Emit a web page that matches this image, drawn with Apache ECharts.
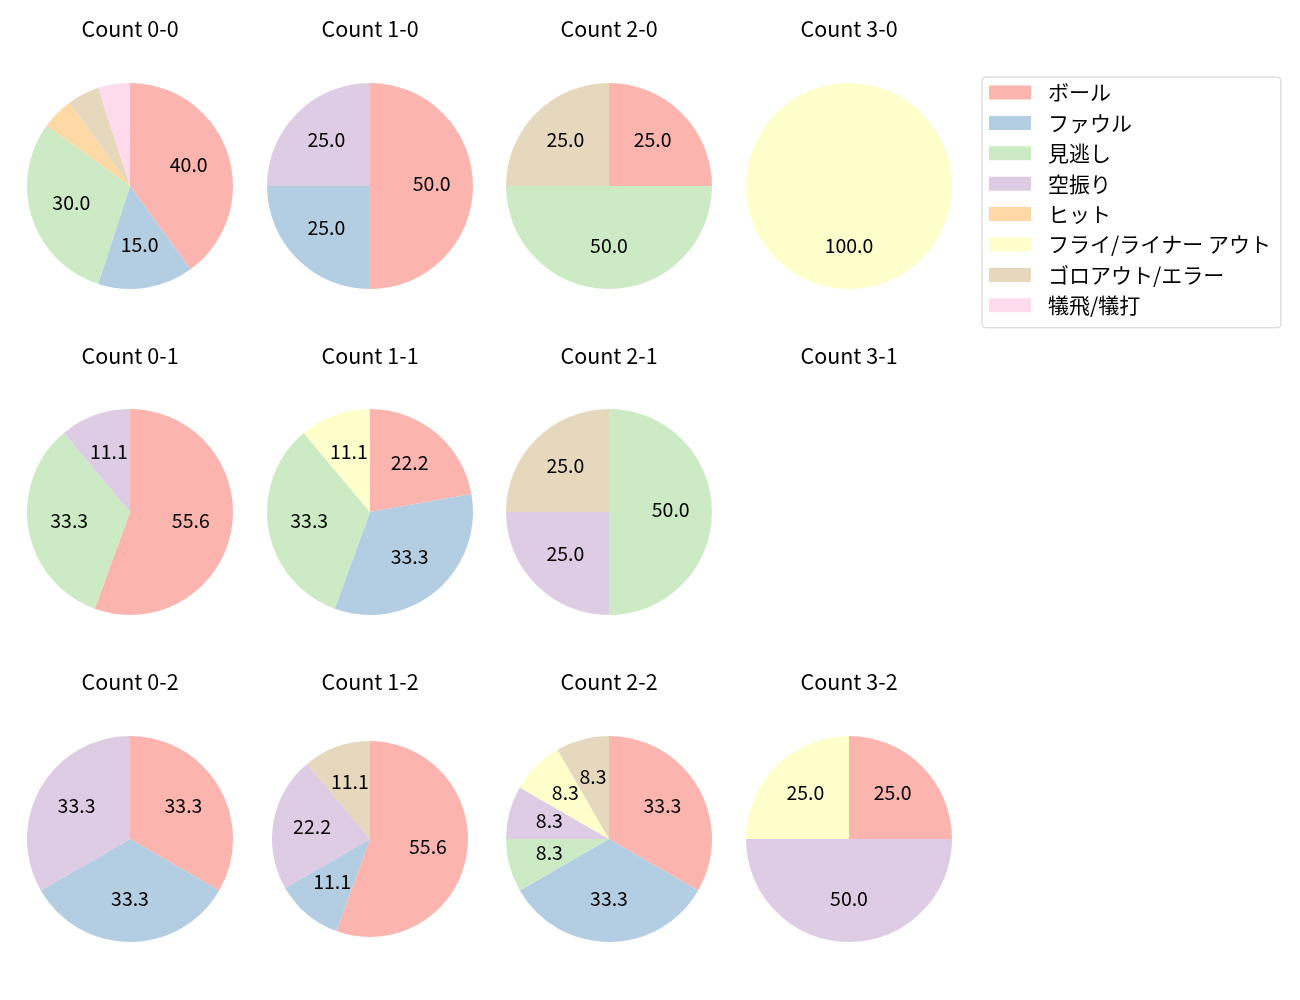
<!DOCTYPE html>
<html><head><meta charset="utf-8">
<script src="https://cdn.jsdelivr.net/npm/echarts@6/dist/echarts.min.js"></script>
<style>html,body{margin:0;padding:0;background:#fff}#c{width:1300px;height:1000px}</style>
</head><body><div id="c"></div>
<script>
const categories = ['ボール','ファウル','見逃し','空振り','ヒット','フライ/ライナー アウト','ゴロアウト/エラー','犠飛/犠打'];
const colors = ['#fbb4ae','#b3cde3','#ccebc5','#decbe4','#fed9a6','#ffffcc','#e5d8bd','#fddaec'];
const countLabels = ['0-0','1-0','2-0','3-0','0-1','1-1','2-1','3-1','0-2','1-2','2-2','3-2'];
const c00 = [8,3,6,0,1,0,1,1];
const c10 = [2,1,0,1,0,0,0,0];
const c20 = [1,0,2,0,0,0,1,0];
const c30 = [0,0,0,0,0,1,0,0];
const c01 = [5,0,3,1,0,0,0,0];
const c11 = [2,3,3,0,0,1,0,0];
const c21 = [0,0,2,1,0,0,1,0];
const c31 = [0,0,0,0,0,0,0,0];
const c02 = [1,1,0,1,0,0,0,0];
const c12 = [5,1,0,2,0,0,1,0];
const c22 = [4,4,1,1,0,1,1,0];
const c32 = [1,0,0,2,0,1,0,0];
const allCounts = [c00,c10,c20,c30,c01,c11,c21,c31,c02,c12,c22,c32];

const FONT = '"Noto Sans CJK JP", "Noto Sans", sans-serif';
const colX = [130,370,609,849];
const rowY = [186,512,839];
const titleY = [18,345,671];
const R = 103;

const series = [];
const titles = [];
allCounts.forEach((vals, i) => {
  const col = i % 4, row = Math.floor(i / 4);
  const cx = colX[col], cy = rowY[row];
  const r = (countLabels[i] === '1-2') ? 98 : R;
  titles.push({
    text: 'Count ' + countLabels[i], left: cx, top: titleY[row], textAlign: 'center', padding: 0,
    textStyle: {fontFamily: FONT, fontSize: 21.5, fontWeight: 'normal', color: '#000', lineHeight: 22}
  });
  const data = [];
  vals.forEach((v, k) => { if (v > 0) data.push({name: categories[k], value: v, itemStyle: {color: colors[k]}}); });
  if (!data.length) return;
  series.push({
    type: 'pie', center: [cx, cy], radius: [0, r], startAngle: 90, clockwise: true,
    silent: true, animation: false, label: {show: false}, labelLine: {show: false},
    itemStyle: {borderWidth: 0}, data: data
  });
  series.push({
    type: 'pie', center: [cx, cy], radius: [0.14 * r, r], startAngle: 90, clockwise: true,
    silent: true, animation: false, legendHoverLink: false,
    label: {show: true, position: 'inside', fontFamily: FONT, fontSize: 19.5, color: '#000',
      offset: [0, -2.5],
      formatter: p => p.percent > 5 ? p.percent.toFixed(1) : ''},
    labelLine: {show: false},
    itemStyle: {color: 'transparent', borderWidth: 0},
    data: data.map(d => ({name: d.name, value: d.value}))
  });
});

const chart = echarts.init(document.getElementById('c'), null, {renderer: 'canvas'});
chart.setOption({
  backgroundColor: '#fff',
  animation: false,
  title: titles,
  legend: {
    orient: 'vertical', left: 982, top: 77,
    data: categories.map((c, k) => ({name: c, itemStyle: {color: colors[k]}})),
    icon: 'rect', itemWidth: 42, itemHeight: 14, itemGap: 9.4,
    padding: [5, 10, 12, 7],
    borderColor: '#d0d0d0', borderWidth: 1, borderRadius: 4,
    selectedMode: false,
    textStyle: {fontFamily: FONT, fontSize: 21, color: '#000', lineHeight: 20, padding: [0, 0, 0, 12]}
  },
  series: series
});
</script>
</body></html>
